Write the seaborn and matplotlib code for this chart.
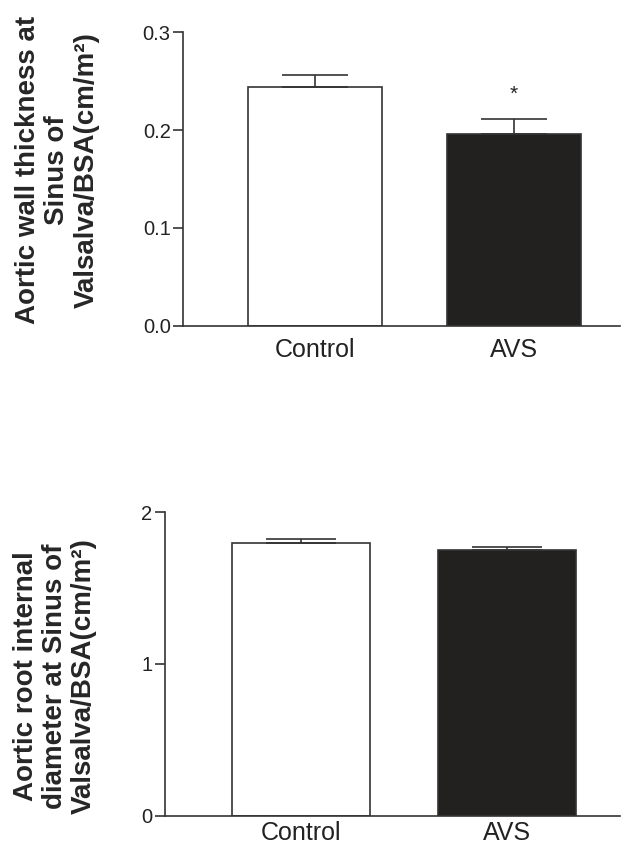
import seaborn as sns
import pandas as pd
import matplotlib.pyplot as plt

# values (mean, upper SEM)
groups = ["Control", "AVS"]
wall_mean = [0.244, 0.196]
wall_err = [0.012, 0.015]
root_mean = [1.80, 1.752]
root_err = [0.022, 0.018]

bar_colors = ["white", "#231f20"]
line_col = "#333333"

sns.set_theme(style="ticks")
plt.rcParams["font.family"] = ["Liberation Sans", "DejaVu Sans"]

fig = plt.figure(figsize=(6.36, 8.48), dpi=100)
ax1 = fig.add_axes([0.288, 0.616, 0.687, 0.346])
ax2 = fig.add_axes([0.259, 0.038, 0.716, 0.358])


def draw(ax, means, errs, ylim, yticks, ticklabels, ylabel, xlim, capsize,
         label_xy, xpad):
    df = pd.DataFrame({"group": groups, "value": means})
    sns.barplot(data=df, x="group", y="value", hue="group", palette=bar_colors,
                edgecolor=line_col, linewidth=1.2, width=0.67, legend=False, ax=ax)
    ax.errorbar([0, 1], means, yerr=[[0, 0], errs], fmt="none", ecolor=line_col,
                elinewidth=1.2, capsize=capsize, capthick=1.2, zorder=3)
    ax.set_ylim(*ylim)
    ax.set_xlim(*xlim)
    ax.set_yticks(yticks)
    ax.set_yticklabels(ticklabels)
    ax.set_xlabel("")
    ax.set_ylabel(ylabel, fontsize=20, fontweight="bold", linespacing=1.15,
                  ha="center", va="center")
    ax.yaxis.set_label_coords(*label_xy)
    ax.tick_params(axis="y", length=7, width=1.2, color=line_col, labelsize=14.5,
                   pad=2, labelcolor="#222222")
    ax.tick_params(axis="x", length=0, labelsize=18, pad=xpad,
                   labelcolor="#222222")
    for s in ["left", "bottom"]:
        ax.spines[s].set_color(line_col)
        ax.spines[s].set_linewidth(1.2)
    sns.despine(ax=ax)


draw(ax1, wall_mean, wall_err, (0, 0.3), [0, 0.1, 0.2, 0.3],
     ["0.0", "0.1", "0.2", "0.3"],
     "Aortic wall thickness at\nSinus of\nValsalva/BSA(cm/m²)",
     (-0.663, 1.533), 24, (-0.288, 0.53), 9)
ax1.text(1, 0.236, "*", ha="center", va="center", fontsize=15, color="#222222")

draw(ax2, root_mean, root_err, (0, 2), [0, 1, 2], ["0", "1", "2"],
     "Aortic root internal\ndiameter at Sinus of\nValsalva/BSA(cm/m²)",
     (-0.66, 1.55), 25, (-0.241, 0.46), 4)

fig.savefig("out.png", dpi=100)
